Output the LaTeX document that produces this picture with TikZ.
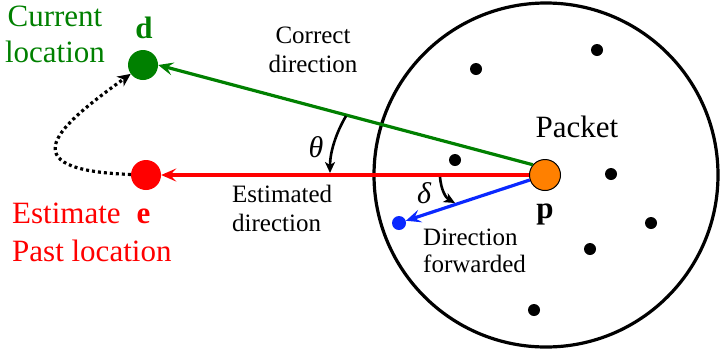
\documentclass[tikz,border=0pt]{standalone}
\usepackage{fontspec}
\setmainfont{Liberation Serif}
\newfontfamily\tnr{Liberation Serif}
\usetikzlibrary{arrows.meta}
\definecolor{dgreen}{RGB}{0,128,0}
\definecolor{dred}{RGB}{255,0,0}
\definecolor{dblue}{RGB}{10,40,255}
\definecolor{dorange}{RGB}{255,128,0}
\begin{document}
\begin{tikzpicture}[x=1pt,y=-1pt,
  bigtxt/.style={font=\tnr\fontsize{31}{36}\selectfont, inner sep=0pt, anchor=base},
  bigleft/.style={bigtxt, anchor=base west},
  smalltxt/.style={font=\tnr\fontsize{25}{29}\selectfont, inner sep=0pt, anchor=base},
  smallleft/.style={smalltxt, anchor=base west},
  greek/.style={font=\tnr\fontsize{30}{34}\selectfont\itshape, inner sep=0pt},
  blackdot/.style={circle, fill=black, minimum size=12pt, inner sep=0pt},
  locdot/.style={circle, minimum size=30pt, inner sep=0pt},
  colarrow/.style={line width=3.2pt, -{Stealth[length=15pt,width=13pt,inset=6pt]}},
  anglearrow/.style={line width=2.6pt, -{Stealth[length=11pt,width=10pt,inset=3pt]}},
  moveline/.style={line width=3.2pt, dash pattern=on 3pt off 3pt, -{Stealth[length=13pt,width=12pt,inset=4pt]}}
]
\useasboundingbox (0,0) rectangle (722,349);

% neighbourhood circle
\draw[line width=3.2pt] (546,175) circle (172);

% neighbour nodes
\node[blackdot] (n1) at (476,69) {};
\node[blackdot] (n2) at (597,50) {};
\node[blackdot] (n3) at (455,160) {};
\node[blackdot] (n4) at (611,174) {};
\node[blackdot] (n5) at (651,223) {};
\node[blackdot] (n6) at (590,249) {};
\node[blackdot] (n7) at (534,310) {};

% main points
\node[locdot, fill=dgreen] (dc) at (143,65) {};
\node[locdot, fill=dred] (ec) at (146,175) {};
\node[circle, minimum size=14pt, inner sep=0pt, fill=dblue] (bc) at (399,223) {};
\node[circle, draw=black, line width=1pt, fill=dorange, minimum size=31pt, inner sep=0pt] (pk) at (545,175) {};

% direction arrows
\draw[colarrow, dgreen] (pk.140) -- (dc.east);
\draw[colarrow, dred] (pk.west) -- (ec.east);
\draw[colarrow, dblue] (pk) -- (bc);

% movement
\draw[moveline] (ec) .. controls (5,170) and (60,125) .. (dc);

% angle arcs
\coordinate (ths) at (346,116);
\coordinate (the) at (330,173);
\draw[anglearrow] (ths) .. controls (336,133) and (330,152) .. (the);
\coordinate (des) at (440,177);
\coordinate (dee) at (455,203);
\draw[anglearrow] (des) .. controls (441,190) and (446,198) .. (dee);

% labels
\node[bigtxt, text=dgreen] (l1) at (55,26) {Current};
\node[bigtxt, text=dgreen] (l2) at (55,62) {location};
\node[bigtxt, text=dgreen] (ld) at (144,38) {\textbf{d}};
\node[bigleft, text=dred] (l3) at (12,223) {Estimate\hspace{16pt}\textbf{e}};
\node[bigleft, text=dred] (l4) at (12,261) {Past location};
\node[bigtxt] (lp) at (577,137) {Packet};
\node[bigtxt] (lpp) at (545,218) {\textbf{p}};
\node[smalltxt] (c1) at (313,43) {Correct};
\node[smalltxt] (c2) at (313,72) {direction};
\node[smallleft] (e1) at (232,202) {Estimated};
\node[smallleft] (e2) at (232,231) {direction};
\node[smallleft] (f1) at (423,245) {Direction};
\node[smallleft] (f2) at (423,272) {forwarded};
\node[greek] (th) at (316,147) {θ};
\node[greek] (de) at (424,193) {δ};
\end{tikzpicture}
\end{document}
